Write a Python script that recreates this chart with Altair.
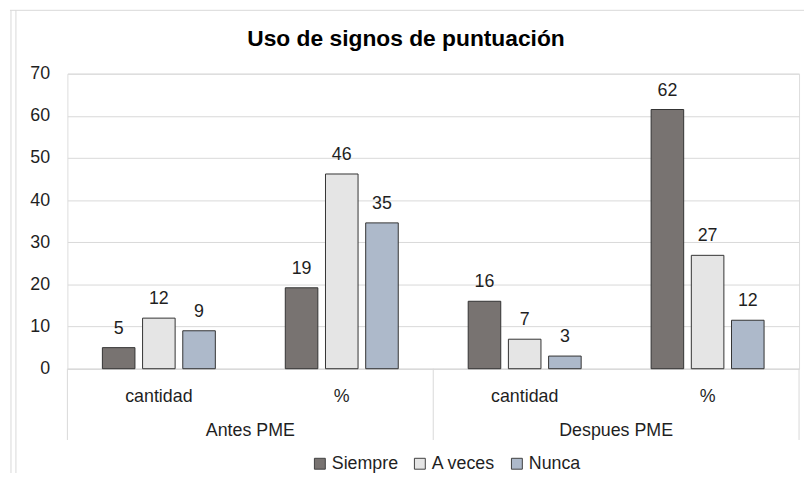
import altair as alt
import pandas as pd

# ---- data ----
series = ["Siempre", "A veces", "Nunca"]
grupos = ["Antes PME", "Despues PME"]
medidas = ["cantidad", "%"]

antes_cantidad = [5, 12, 9]
antes_pct = [19.2, 46.2, 34.6]
despues_cantidad = [16, 7, 3]
despues_pct = [61.5, 26.9, 11.5]

colores = ["#787371", "#E5E5E5", "#ADB9CA"]
titulo = "Uso de signos de puntuación"

valores = {
    ("Antes PME", "cantidad"): antes_cantidad,
    ("Antes PME", "%"): antes_pct,
    ("Despues PME", "cantidad"): despues_cantidad,
    ("Despues PME", "%"): despues_pct,
}

cats = [f"{g}|{m}" for g in grupos for m in medidas]
rows = []
for g in grupos:
    for m in medidas:
        for s, v in zip(series, valores[(g, m)]):
            rows.append({"cat": f"{g}|{m}", "serie": s, "valor": v})
df = pd.DataFrame(rows)

df_grupos = pd.DataFrame({"cat": [f"{g}|cantidad" for g in grupos], "grupo": grupos})
df_div_left = pd.DataFrame({"cat": [f"{g}|cantidad" for g in grupos]})
df_div_right = pd.DataFrame({"cat": [cats[-1]]})
df_title = pd.DataFrame({"t": [titulo]})

W, H = 739, 298
FONT = "Liberation Sans"
FS = 18
TXT = "#1F1F1F"
GRID = "#D9D9D9"

xscale = alt.Scale(domain=cats, paddingInner=0, paddingOuter=0)
xoff_scale = alt.Scale(domain=series, paddingInner=0.19, paddingOuter=0.87)
yscale = alt.Scale(domain=[0, 70], nice=False)

x_enc = alt.X(
    "cat:N",
    scale=xscale,
    sort=cats,
    title=None,
    axis=alt.Axis(
        labelExpr="split(datum.label, '|')[1]",
        labelAngle=0,
        labelFontSize=FS,
        labelFont=FONT,
        labelColor=TXT,
        labelPadding=28,
        labelBaseline="middle",
        ticks=False,
        tickSize=0,
        domainColor=GRID,
        domainWidth=1,
        grid=False,
    ),
)

bars = alt.Chart(df).mark_bar(stroke="#333333", strokeWidth=1).encode(
    x=x_enc,
    xOffset=alt.XOffset("serie:N", scale=xoff_scale, sort=series),
    y=alt.Y(
        "valor:Q",
        scale=yscale,
        title=None,
        axis=alt.Axis(
            values=list(range(0, 71, 10)),
            labelFontSize=FS,
            labelFont=FONT,
            labelColor=TXT,
            labelPadding=18,
            domain=False,
            ticks=False,
            gridColor=GRID,
            gridWidth=1,
        ),
    ),
    color=alt.Color(
        "serie:N",
        scale=alt.Scale(domain=series, range=colores),
        sort=series,
        legend=alt.Legend(
            title=None,
            orient="none",
            legendX=246,
            legendY=385,
            direction="horizontal",
            symbolType="square",
            symbolSize=121,
            symbolStrokeColor="#404040",
            symbolStrokeWidth=1,
            symbolOpacity=1,
            labelFontSize=FS,
            labelFont=FONT,
            labelColor=TXT,
            labelOffset=3,
            columnPadding=12,
        ),
    ),
)

labels = alt.Chart(df).mark_text(
    baseline="alphabetic", dy=-14, fontSize=FS, font=FONT, color=TXT
).encode(
    x=alt.X("cat:N", scale=xscale, sort=cats),
    xOffset=alt.XOffset("serie:N", scale=xoff_scale, sort=series),
    y=alt.Y("valor:Q", scale=yscale),
    text=alt.Text("valor:Q", format=".0f"),
)

group_labels = alt.Chart(df_grupos).mark_text(
    baseline="middle", fontSize=FS, font=FONT, color=TXT
).encode(
    x=alt.X("cat:N", scale=xscale, sort=cats, bandPosition=1),
    y=alt.value(H + 63),
    text="grupo:N",
)

div_left = alt.Chart(df_div_left).mark_rule(color=GRID, strokeWidth=1).encode(
    x=alt.X("cat:N", scale=xscale, sort=cats, bandPosition=0),
    y=alt.value(H),
    y2=alt.value(H + 72),
)
div_right = alt.Chart(df_div_right).mark_rule(color=GRID, strokeWidth=1).encode(
    x=alt.X("cat:N", scale=xscale, sort=cats, bandPosition=1),
    y=alt.value(H),
    y2=alt.value(H + 72),
)

title_mark = alt.Chart(df_title).mark_text(
    baseline="alphabetic", align="center", fontSize=23, fontWeight="bold", font=FONT, color="#000000"
).encode(
    x=alt.value(342),
    y=alt.value(-28),
    text="t:N",
)

frame_df = pd.DataFrame({"k": [0]})
frame_top = alt.Chart(frame_df).mark_rule(color=GRID, strokeWidth=1).encode(
    x=alt.value(-58), x2=alt.value(W + 10), y=alt.value(-64)
)
frame_l1 = alt.Chart(frame_df).mark_rule(color=GRID, strokeWidth=1).encode(
    x=alt.value(-57), y=alt.value(-64), y2=alt.value(H + 110)
)
frame_l2 = alt.Chart(frame_df).mark_rule(color=GRID, strokeWidth=1).encode(
    x=alt.value(-52), y=alt.value(-64), y2=alt.value(H + 110)
)

chart = (
    alt.layer(
        bars, labels, group_labels, div_left, div_right, title_mark,
        frame_top, frame_l1, frame_l2,
    )
    .properties(
        width=W,
        height=H,
        autosize=alt.AutoSizeParams(type="none"),
        padding={"left": 60, "top": 64, "right": 5, "bottom": 103},
    )
    .configure_view(stroke=None)
    .configure(background="white")
)

chart.save("out.html", embed_options={"renderer": "svg", "actions": False})
